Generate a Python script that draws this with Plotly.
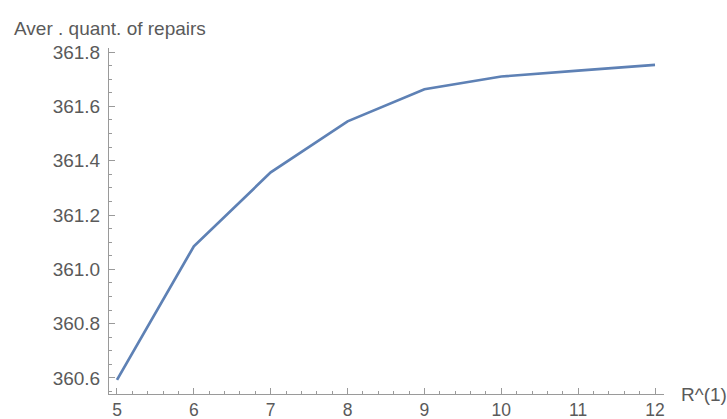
import plotly.graph_objects as go

# Average quantity of repairs as a function of R^(1)
r_values = [5, 6, 7, 8, 9, 10, 11, 12]
avg_repairs = [360.593, 361.085, 361.357, 361.545, 361.663, 361.710, 361.732, 361.753]

x_ticks = [5, 6, 7, 8, 9, 10, 11, 12]
y_ticks = [360.6, 360.8, 361.0, 361.2, 361.4, 361.6, 361.8]
y_tick_labels = ["360.6", "360.8", "361.0", "361.2", "361.4", "361.6", "361.8"]

axis_col = "#9a9a9a"
text_col = "#5a5a5a"
font_family = "Liberation Sans, Arial, sans-serif"

fig = go.Figure()
fig.add_trace(go.Scatter(
    x=r_values, y=avg_repairs, mode="lines",
    line=dict(color="#5E81B5", width=2.7),
    hoverinfo="skip",
))

fig.update_layout(
    width=727, height=419,
    margin=dict(l=109, r=63, t=48, b=25),
    paper_bgcolor="white", plot_bgcolor="white",
    showlegend=False,
    font=dict(family=font_family, color=text_col, size=19),
)

fig.update_xaxes(
    range=[4.896, 12.117],
    tickvals=x_ticks, ticktext=[str(v) for v in x_ticks],
    ticks="inside", ticklen=6, tickwidth=1, tickcolor=axis_col,
    minor=dict(dtick=0.2, ticks="inside", ticklen=3, tickcolor=axis_col, showgrid=False),
    showline=True, linecolor=axis_col, linewidth=1,
    showgrid=False, zeroline=False,
    ticklabelstandoff=0,
    automargin=False,
    tickfont=dict(size=17.5, color=text_col),
)
fig.update_yaxes(
    range=[360.541, 361.815],
    tickvals=y_ticks, ticktext=y_tick_labels,
    ticks="inside", ticklen=6, tickwidth=1, tickcolor=axis_col,
    minor=dict(dtick=0.05, tick0=360.6, ticks="inside", ticklen=3, tickcolor=axis_col, showgrid=False),
    showline=True, linecolor=axis_col, linewidth=1,
    showgrid=False, zeroline=False,
    ticklabelstandoff=4,
    automargin=False,
    tickfont=dict(size=19, color=text_col),
)

fig.add_annotation(
    text="Aver . quant. of repairs", xref="paper", yref="paper",
    x=-0.1748, y=1.0, yshift=20, xanchor="left", yanchor="middle",
    showarrow=False, font=dict(size=19, color=text_col, family=font_family),
)
fig.add_annotation(
    text="R^(1)", xref="paper", yref="paper",
    x=1.0, y=0.0, xshift=15, xanchor="left", yanchor="middle",
    showarrow=False, font=dict(size=19, color=text_col, family=font_family),
)

fig.write_html("out.html")
